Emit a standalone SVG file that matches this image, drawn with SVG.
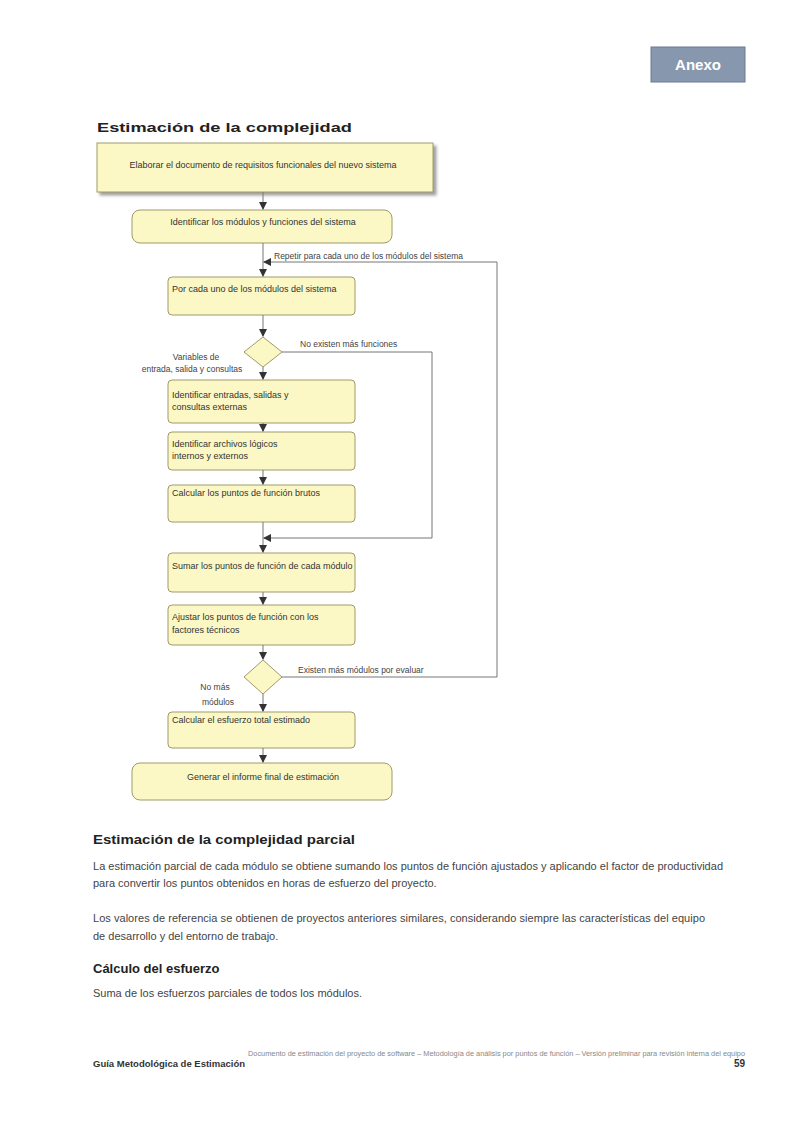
<svg xmlns="http://www.w3.org/2000/svg" width="800" height="1131" viewBox="0 0 800 1131">
<defs>
<marker id="ah" markerWidth="8" markerHeight="8" refX="7" refY="4" orient="auto" markerUnits="userSpaceOnUse">
<path d="M0,0 L8,4 L0,8 z" fill="#333"/>
</marker>
<filter id="sh" x="-5%" y="-20%" width="115%" height="150%">
<feDropShadow dx="3" dy="3" stdDeviation="1.5" flood-color="#777" flood-opacity="0.7"/>
</filter>
</defs>
<style>
text{font-family:"Liberation Sans",Arial,sans-serif;fill:#333}
.box{fill:#fbf8c6;stroke:#a09a6a;stroke-width:1}
.nt{font-size:9px}
.lbl{font-size:8.5px;fill:#444}
.con{fill:none;stroke:#777;stroke-width:1}
.h{font-size:13px;font-weight:bold;fill:#222}
.p{font-size:11px;fill:#444}
</style>
<rect width="800" height="1131" fill="#fff"/>
<g id="badge">
<rect x="651" y="47" width="94" height="35" fill="#8797ad" stroke="#6b7a90"/>
<text x="698" y="70" text-anchor="middle" font-size="15" font-weight="bold" style="fill:#fff">Anexo</text>
</g>
<g id="title">
<text x="97" y="132" class="h" font-size="12" textLength="255" lengthAdjust="spacingAndGlyphs">Estimación de la complejidad</text>
</g>
<g id="n1">
<rect x="97" y="143" width="336" height="49" class="box" filter="url(#sh)"/>
<text x="263" y="168" class="nt" text-anchor="middle">Elaborar el documento de requisitos funcionales del nuevo sistema</text>
</g>
<g id="n2">
<rect x="132" y="210" width="260" height="33" rx="8" class="box"/>
<text x="263" y="225" class="nt" text-anchor="middle">Identificar los módulos y funciones del sistema</text>
</g>
<g id="n3">
<rect x="168" y="277" width="187" height="38" rx="4" class="box"/>
<text x="172" y="292" class="nt">Por cada uno de los módulos del sistema</text>
</g>
<g id="d1">
<path d="M263,337 L282,352 L263,367 L244,352 z" class="box"/>
</g>
<g id="n4">
<rect x="168" y="380" width="187" height="43" rx="4" class="box"/>
<text x="172" y="398" class="nt">Identificar entradas, salidas y</text>
<text x="172" y="410" class="nt">consultas externas</text>
</g>
<g id="n5">
<rect x="168" y="432" width="187" height="38" rx="4" class="box"/>
<text x="172" y="447" class="nt">Identificar archivos lógicos</text>
<text x="172" y="459" class="nt">internos y externos</text>
</g>
<g id="n6">
<rect x="168" y="485" width="187" height="37" rx="4" class="box"/>
<text x="172" y="496" class="nt">Calcular los puntos de función brutos</text>
</g>
<g id="n7">
<rect x="168" y="553" width="187" height="39" rx="4" class="box"/>
<text x="172" y="569" class="nt">Sumar los puntos de función de cada módulo</text>
</g>
<g id="n8">
<rect x="168" y="605" width="187" height="40" rx="4" class="box"/>
<text x="172" y="620" class="nt">Ajustar los puntos de función con los</text>
<text x="172" y="633" class="nt">factores técnicos</text>
</g>
<g id="d2">
<path d="M263,660 L282,677 L263,694 L244,677 z" class="box"/>
</g>
<g id="n9">
<rect x="168" y="712" width="187" height="36" rx="4" class="box"/>
<text x="172" y="723" class="nt">Calcular el esfuerzo total estimado</text>
</g>
<g id="n10">
<rect x="132" y="763" width="260" height="37" rx="8" class="box"/>
<text x="263" y="780" class="nt" text-anchor="middle">Generar el informe final de estimación</text>
</g>
<g id="connectors">
<line x1="263" y1="192" x2="263" y2="209" class="con" marker-end="url(#ah)"/>
<line x1="263" y1="243" x2="263" y2="276" class="con" marker-end="url(#ah)"/>
<line x1="263" y1="315" x2="263" y2="336" class="con" marker-end="url(#ah)"/>
<line x1="263" y1="367" x2="263" y2="379" class="con" marker-end="url(#ah)"/>
<line x1="263" y1="423" x2="263" y2="431" class="con" marker-end="url(#ah)"/>
<line x1="263" y1="470" x2="263" y2="484" class="con" marker-end="url(#ah)"/>
<line x1="263" y1="522" x2="263" y2="552" class="con" marker-end="url(#ah)"/>
<line x1="263" y1="592" x2="263" y2="604" class="con" marker-end="url(#ah)"/>
<line x1="263" y1="645" x2="263" y2="659" class="con" marker-end="url(#ah)"/>
<line x1="263" y1="694" x2="263" y2="711" class="con" marker-end="url(#ah)"/>
<line x1="263" y1="748" x2="263" y2="762" class="con" marker-end="url(#ah)"/>
<polyline points="282,352 432,352 432,538 264,538" class="con" marker-end="url(#ah)"/>
<polyline points="282,677 497,677 497,262 264,262" class="con" marker-end="url(#ah)"/>
<text x="274" y="259" class="lbl">Repetir para cada uno de los módulos del sistema</text>
<text x="300" y="347" class="lbl">No existen más funciones</text>
<text x="196" y="360" class="lbl" text-anchor="middle">Variables de</text>
<text x="192" y="372" class="lbl" text-anchor="middle">entrada, salida y consultas</text>
<text x="298" y="673" class="lbl">Existen más módulos por evaluar</text>
<text x="215" y="690" class="lbl" text-anchor="middle">No más</text>
<text x="218" y="705" class="lbl" text-anchor="middle">módulos</text>
</g>
<g id="body">
<text x="93" y="844" class="h" textLength="262" lengthAdjust="spacingAndGlyphs">Estimación de la complejidad parcial</text>
<text x="93" y="870" class="p" textLength="630" lengthAdjust="spacing">La estimación parcial de cada módulo se obtiene sumando los puntos de función ajustados y aplicando el factor de productividad</text>
<text x="93" y="887" class="p">para convertir los puntos obtenidos en horas de esfuerzo del proyecto.</text>
<text x="93" y="922" class="p" textLength="612" lengthAdjust="spacing">Los valores de referencia se obtienen de proyectos anteriores similares, considerando siempre las características del equipo</text>
<text x="93" y="940" class="p">de desarrollo y del entorno de trabajo.</text>
<text x="93" y="973" class="h">Cálculo del esfuerzo</text>
<text x="93" y="997" class="p">Suma de los esfuerzos parciales de todos los módulos.</text>
</g>
<g id="footer">
<text x="248" y="1056" font-size="7" style="fill:#888" textLength="497" lengthAdjust="spacingAndGlyphs">Documento de estimación del proyecto de software – Metodología de análisis por puntos de función – Versión preliminar para revisión interna del equipo</text>
<text x="93" y="1067" font-size="9.5" font-weight="bold" style="fill:#333">Guía Metodológica de Estimación</text>
<text x="745" y="1067" font-size="10" font-weight="bold" text-anchor="end" style="fill:#333">59</text>
</g>
</svg>
